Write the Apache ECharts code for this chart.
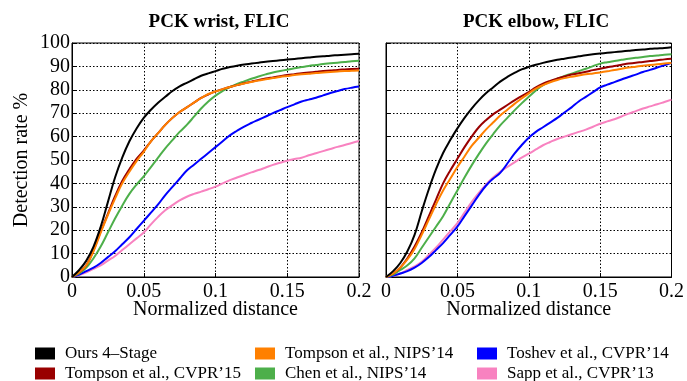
<!DOCTYPE html>
<html>
<head>
<meta charset="utf-8">
<script src="https://cdn.jsdelivr.net/npm/echarts@6/dist/echarts.min.js"></script>
<style>
html,body{margin:0;padding:0;background:#fff;}
#chart{width:687px;height:381px;}
</style>
</head>
<body>
<div id="chart"></div>
<script>
// Normalized distance sample positions
const distances = [0,0.005,0.01,0.015,0.02,0.025,0.03,0.035,0.04,0.045,0.05,0.055,0.06,0.065,0.07,0.075,0.08,0.085,0.09,0.095,0.1,0.105,0.11,0.115,0.12,0.125,0.13,0.135,0.14,0.145,0.15,0.155,0.16,0.165,0.17,0.175,0.18,0.185,0.19,0.195,0.2];
const xTicks = ['0','0.05','0.1','0.15','0.2'];
const methodNames = ['Ours 4\u2013Stage','Tompson et al., CVPR\u201915','Tompson et al., NIPS\u201914','Chen et al., NIPS\u201914','Toshev et al., CVPR\u201914','Sapp et al., CVPR\u201913'];
const panelTitles = ['PCK wrist, FLIC','PCK elbow, FLIC'];

// Wrist (left panel)
const wristOurs   = [0,3,7,13,21.5,32,42.5,51,58,63.5,68,71.5,74.5,77,79.5,81.5,83,84.5,86,87,88,89,89.7,90.3,90.8,91.2,91.6,92,92.3,92.6,92.9,93.2,93.5,93.8,94.1,94.3,94.6,94.8,95,95.2,95.4];
const wristCVPR15 = [0,2,5,11.5,19.5,27,34.5,41,46,50.5,54,58,61.5,65,68,70.5,72.5,74.5,76.5,78,79.3,80.3,81.2,82,82.8,83.5,84.2,84.8,85.3,85.8,86.3,86.7,87.1,87.4,87.7,88,88.2,88.5,88.7,88.9,89];
const wristNIPS14 = [0,2,5,11,19,26.5,33.5,40,45,49.5,53.5,58,61.5,65,68,70.5,72.5,74.5,76.5,78.2,79.3,80.3,81.2,82,82.7,83.3,84,84.5,85,85.5,85.9,86.3,86.6,86.9,87.2,87.4,87.6,87.8,88,88.1,88.2];
const wristChen   = [0,1.5,4,8,13,19,25,30.5,35.5,39.5,43,47,51,55,58.5,62,65,68.5,72,75,77.5,79.5,81.2,82.5,83.6,84.7,85.7,86.6,87.4,88,88.6,89.2,89.7,90.2,90.6,91,91.3,91.6,91.9,92.2,92.4];
const wristToshev = [0,1,2.5,4,6,8.5,11,14,17,20.5,24,27.5,31,35,38.5,42,45.5,48,50.5,53,55.5,58,60.5,62.5,64.3,65.8,67.2,68.6,70,71.3,72.6,73.8,75,75.8,76.6,77.6,78.6,79.5,80.3,80.9,81.4];
const wristSapp   = [0,0.8,2,3.5,5,7,9,11.5,14,16.5,19,22.5,25.7,28.5,30.7,32.7,34.3,35.5,36.5,37.5,38.6,40,41.4,42.5,43.6,44.7,45.7,46.8,47.9,48.8,49.7,50.4,51,52,52.9,53.8,54.7,55.6,56.4,57.3,58.1];

// Elbow (right panel)
const elbowOurs   = [0,2.5,6,11,18,28,37.5,46,53,58.5,63.5,68,72,75.5,78.5,81,83.5,85.5,87.2,88.7,89.8,90.7,91.5,92.2,92.8,93.3,93.8,94.3,94.8,95.2,95.5,95.8,96.1,96.4,96.7,97,97.2,97.5,97.7,97.9,98.2];
const elbowCVPR15 = [0,1.5,4,8,13,19,26,33,40,45.5,50.5,55.5,60,64,67,69.5,71.5,73.5,75.5,77.3,79,81,82.6,83.8,84.8,85.7,86.5,87.1,87.7,88.4,89,89.6,90.2,90.7,91.2,91.6,91.9,92.3,92.6,93,93.3];
const elbowNIPS14 = [0,1.5,4,7.5,12,18,24.5,31,37,42,47,51.5,56,59.5,63,66,69,71.5,74,76.3,78.5,80.5,82,83.2,84.2,85,85.6,86.1,86.6,87,87.4,87.9,88.5,89,89.5,89.9,90.3,90.6,90.9,91.2,91.5];
const elbowChen   = [0,1,3,5,8,12.5,17,21.5,26,31.5,37,42.5,47.7,52.5,57,61,64.8,68,71.2,74.2,77,79.7,82,83.5,84.8,85.9,86.9,88,89,90.1,91.2,91.8,92.3,92.8,93.3,93.7,94,94.4,94.7,95,95.2];
const elbowToshev = [0,0.5,1.5,2.5,4,6,8.5,11.5,14.5,18,21.5,26,30.5,35,39,42,44.5,48.5,52.7,56.3,59.5,62,64,66,68,70.3,72.5,75,77,79,81,82.2,83.3,84.4,85.5,86.5,87.6,88.5,89.5,90.5,91.5];
const elbowSapp   = [0,0.5,1.5,3,4.5,6.5,9.5,12.5,16,19.5,23,27.5,32,36,39.5,42.5,45,47,49,51,52.7,54.5,56.3,57.7,59,60,61,62,63,64.2,65.5,66.5,67.4,68.6,69.8,70.9,72,72.9,73.8,74.8,75.8];

const colors = ['#000000','#990000','#ff8000','#4daf4a','#0000ff','#f882c0'];
const wristSets = [wristOurs,wristCVPR15,wristNIPS14,wristChen,wristToshev,wristSapp];
const elbowSets = [elbowOurs,elbowCVPR15,elbowNIPS14,elbowChen,elbowToshev,elbowSapp];

const FONT = '"Liberation Serif","DejaVu Serif",serif';
const drawOrder = [5,4,3,1,2,0];

function pair(vals){ return distances.map((d,i)=>[d,vals[i]]); }

const series = [];
[wristSets, elbowSets].forEach((sets, g) => {
  drawOrder.forEach(k => {
    series.push({
      name: methodNames[k], type: 'line', xAxisIndex: g, yAxisIndex: g,
      data: pair(sets[k]), showSymbol: false, symbol: 'none', smooth: 0.4,
      lineStyle: {color: colors[k], width: 2}, itemStyle: {color: colors[k]},
      z: 3 + drawOrder.indexOf(k)
    });
  });
});

function xAx(g){
  return {
    type: 'value', gridIndex: g, min: 0, max: 0.2, interval: 0.05,
    name: 'Normalized distance', nameLocation: 'middle', nameGap: 23, nameMoveOverlap: false,
    nameTextStyle: {fontFamily: FONT, fontSize: 20, color: '#000'},
    axisLine: {show: true, lineStyle: {color: '#000', width: 1}},
    axisTick: {show: true, inside: true, length: 4, lineStyle: {color: '#000'}},
    axisLabel: {fontFamily: FONT, fontSize: 20, color: '#000', margin: 5,
      formatter: v => xTicks[Math.round(v / 0.05)]},
    splitLine: {show: true, lineStyle: {color: '#000', type: [1.5, 2], width: 1}}
  };
}
function yAx(g){
  return {
    type: 'value', gridIndex: g, min: 0, max: 100, interval: 10,
    name: g === 0 ? 'Detection rate %' : '', nameLocation: 'middle', nameGap: 40, nameRotate: 90,
    nameMoveOverlap: false,
    nameTextStyle: {fontFamily: FONT, fontSize: 20, color: '#000'},
    axisLine: {show: true, lineStyle: {color: '#000', width: 1}},
    axisTick: {show: true, inside: true, length: 4, lineStyle: {color: '#000'}},
    axisLabel: {show: g === 0, fontFamily: FONT, fontSize: 20, color: '#000', margin: 2},
    splitLine: {show: true, lineStyle: {color: '#000', type: [1.5, 2], width: 1}}
  };
}

// one legend entry per component: [left, top]
const legendSlots = [[35,345],[35,365],[255,345],[255,365],[477,345],[477,365]];
const legends = methodNames.map((n, i) => ({
  left: legendSlots[i][0], top: legendSlots[i][1], padding: 0,
  itemWidth: 20, itemHeight: 12, icon: 'rect', data: [n], selectedMode: false,
  textStyle: {fontFamily: FONT, fontSize: 17, color: '#000', padding: [0,0,0,5]}
}));

const chart = echarts.init(document.getElementById('chart'));
chart.setOption({
  animation: false,
  backgroundColor: '#fff',
  title: [
    {text: panelTitles[0], left: 214, top: 8, textAlign: 'center',
     textStyle: {fontFamily: FONT, fontSize: 19, fontWeight: 'bold', color: '#000'}},
    {text: panelTitles[1], left: 531, top: 8, textAlign: 'center',
     textStyle: {fontFamily: FONT, fontSize: 19, fontWeight: 'bold', color: '#000'}}
  ],
  grid: [
    {left: 72, top: 43, width: 287, height: 234, show: true, borderColor: '#000', borderWidth: 1, backgroundColor: 'transparent'},
    {left: 386, top: 43, width: 287, height: 234, show: true, borderColor: '#000', borderWidth: 1, backgroundColor: 'transparent'}
  ],
  xAxis: [xAx(0), xAx(1)],
  yAxis: [yAx(0), yAx(1)],
  legend: legends,
  series: series
});
</script>
</body>
</html>
